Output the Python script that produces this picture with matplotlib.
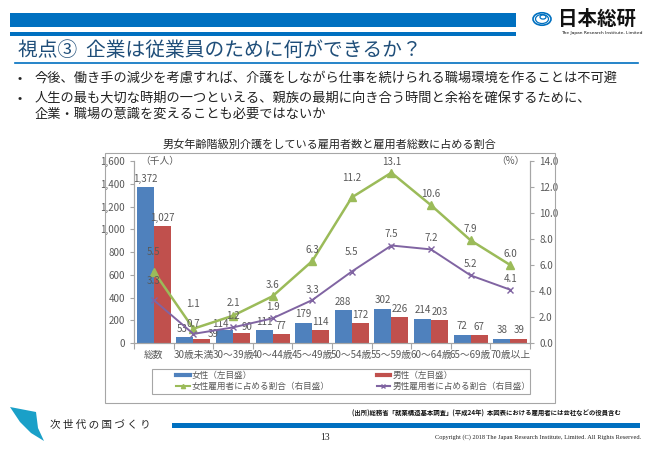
import matplotlib
matplotlib.use("Agg")
import matplotlib.pyplot as plt
from matplotlib.patches import Rectangle, Polygon, Circle
from matplotlib.lines import Line2D

plt.rcParams['font.family'] = ['Noto Sans CJK JP', 'DejaVu Sans']

categories = ["総数", "30歳未満", "30～39歳", "40～44歳", "45～49歳",
              "50～54歳", "55～59歳", "60～64歳", "65～69歳", "70歳以上"]
female = [1372, 53, 114, 111, 179, 288, 302, 214, 72, 38]
male = [1027, 39, 90, 77, 114, 172, 226, 203, 67, 39]
female_rate = [5.5, 1.1, 2.1, 3.6, 6.3, 11.2, 13.1, 10.6, 7.9, 6.0]
male_rate = [3.3, 0.7, 1.2, 1.9, 3.3, 5.5, 7.5, 7.2, 5.2, 4.1]

# label offsets in points (dx, dy) - layout only
f_off = [14, 18, 9, 8, 8, 14, 8, 8, 8, 8]
m_off = [14, 7, 8, 8, 7, 14, 8, 8, 8, 8]
fbar_off = [(0, 6), (-2, 6), (-3, 4), (0, 6), (0, 6), (0, 6), (0, 6), (0, 6), (0, 6), (0, 6)]
mbar_off = [(0, 6), (8, 3), (4, 4), (0, 6), (0, 6), (0, 6), (0, 6), (0, 6), (0, 6), (0, 6)]

BLUE = "#4F81BD"
RED = "#C0504D"
GREEN = "#9BBB59"
PURPLE = "#8064A2"
NAVY = "#0070C0"
GRAY = "#595959"

W, H = 650, 450
fig = plt.figure(figsize=(6.5, 4.5), dpi=100)


def px(x, y):
    return x / W, 1 - y / H


def ftext(x, y, s, **kw):
    fig.text(*px(x, y), s, **kw)


# header
fig.patches.append(Rectangle(px(10, 27), 506 / W, 14 / H, transform=fig.transFigure,
                             color=NAVY, lw=0))
fig.patches.append(Rectangle(px(10, 36), 506 / W, 4 / H, transform=fig.transFigure,
                             color=NAVY, lw=0))
fig.lines.append(Line2D([15 / W, 638 / W], [1 - 63 / H] * 2, transform=fig.transFigure,
                        color=NAVY, lw=1.2))

# logo
for r, lw in [(9, 1.2), (6.5, 0.9)]:
    fig.patches.append(Circle(px(542, 19), r / W, transform=fig.transFigure,
                              fill=False, ec=NAVY, lw=lw))
fig.patches.append(Circle(px(543, 17), 3 / W, transform=fig.transFigure,
                          fill=False, ec=NAVY, lw=0.9))
ftext(558, 19, "日本総研", fontsize=14, va="center", ha="left", color="#111111",
      fontweight="bold")
ftext(561, 33, "The Japan Research Institute, Limited", fontsize=3.2, va="center",
      ha="left", color="#111111", family=["DejaVu Sans"])

ftext(18, 50, "視点③  企業は従業員のために何ができるか？", fontsize=14.2, va="center",
      ha="left", color="#1F4E79")

bullets = [(78, "今後、働き手の減少を考慮すれば、介護をしながら仕事を続けられる職場環境を作ることは不可避"),
           (98, "人生の最も大切な時期の一つといえる、親族の最期に向き合う時間と余裕を確保するために、")]
for y, s in bullets:
    ftext(17, y, "•", fontsize=9, va="center", ha="left", color="#222222")
    ftext(35, y, s, fontsize=9.5, va="center", ha="left", color="#222222")
ftext(35, 114, "企業・職場の意識を変えることも必要ではないか", fontsize=9.5, va="center",
      ha="left", color="#222222")

# chart frame and title
fig.patches.append(Rectangle(px(105, 403), 450 / W, 250 / H, transform=fig.transFigure,
                             fill=False, ec="#A6A6A6", lw=0.8))
ftext(329, 144, "男女年齢階級別介護をしている雇用者数と雇用者総数に占める割合",
      fontsize=8, va="center", ha="center", color="#222222")

ax = fig.add_axes([134 / W, 1 - 343 / H, 396 / W, 182 / H])
x = list(range(len(categories)))
bw = 0.43
ax.bar([i - bw / 2 for i in x], female, bw, color=BLUE)
ax.bar([i + bw / 2 for i in x], male, bw, color=RED)
for i in x:
    ax.annotate(f"{female[i]:,}", (i - bw / 2, female[i]), xytext=fbar_off[i],
                textcoords="offset points", ha="center", va="center", fontsize=7, color=GRAY)
    ax.annotate(f"{male[i]:,}", (i + bw / 2, male[i]), xytext=mbar_off[i],
                textcoords="offset points", ha="center", va="center", fontsize=7, color=GRAY)
ax.set_xlim(-0.5, len(categories) - 0.5)
ax.set_ylim(0, 1600)
ax.set_yticks(range(0, 1601, 200))
ax.set_yticklabels([f"{v:,}" for v in range(0, 1601, 200)])
ax.set_xticks([i - 0.5 for i in range(len(categories) + 1)])
ax.set_xticklabels([])
ax.set_xticks(x, minor=True)
ax.set_xticklabels(categories, minor=True)
ax.tick_params(axis="x", which="major", length=4, color="#A6A6A6")
ax.tick_params(axis="x", which="minor", length=0, labelsize=7, labelcolor=GRAY, pad=5)
ax.tick_params(axis="y", length=3, color="#A6A6A6", labelsize=7, labelcolor=GRAY)
ax.spines["top"].set_visible(False)
for s in ["left", "bottom", "right"]:
    ax.spines[s].set_color("#A6A6A6")

ax2 = ax.twinx()
ax2.plot(x, female_rate, color=GREEN, lw=1.8, marker="^", ms=5.5)
ax2.plot(x, male_rate, color=PURPLE, lw=1.4, marker="x", ms=5, mew=1)
for i in x:
    ax2.annotate(f"{female_rate[i]:.1f}", (i, female_rate[i]), xytext=(0, f_off[i]),
                 textcoords="offset points", ha="center", va="center", fontsize=7, color=GRAY)
    ax2.annotate(f"{male_rate[i]:.1f}", (i, male_rate[i]), xytext=(0, m_off[i]),
                 textcoords="offset points", ha="center", va="center", fontsize=7, color=GRAY)
ax2.set_ylim(0, 14)
ax2.set_yticks(range(0, 15, 2))
ax2.set_yticklabels([f"{v:.1f}" for v in range(0, 15, 2)])
ax2.tick_params(axis="y", length=3, color="#A6A6A6", labelsize=7, labelcolor=GRAY)
ax2.spines["top"].set_visible(False)
for s in ["left", "bottom", "right"]:
    ax2.spines[s].set_color("#A6A6A6")

ftext(140, 161, "（千人）", fontsize=7, va="center", ha="left", color=GRAY)
ftext(525, 161, "（%）", fontsize=7, va="center", ha="right", color=GRAY)

# legend: frame drawn separately, entries placed inside it
fig.patches.append(Rectangle(px(152, 394), 378 / W, 25 / H, transform=fig.transFigure,
                             fill=False, ec="#A6A6A6", lw=0.8))
handles = [Line2D([], [], color=BLUE, lw=3),
           Line2D([], [], color=GREEN, lw=1.5, marker="^", ms=3),
           Line2D([], [], color=RED, lw=3),
           Line2D([], [], color=PURPLE, lw=1.5, marker="x", ms=3)]
labels = ["女性（左目盛）", "女性雇用者に占める割合（右目盛）",
          "男性（左目盛）", "男性雇用者に占める割合（右目盛）"]
leg = fig.legend(handles, labels, ncol=2, loc="upper left",
                 bbox_to_anchor=px(174, 369), borderaxespad=0,
                 fontsize=6.2, frameon=False,
                 handlelength=1.6, handletextpad=0.2, columnspacing=5.5,
                 labelspacing=0.3, borderpad=0.2)
for t in leg.get_texts():
    t.set_color(GRAY)

# footer
ftext(352, 413, "(出所)総務省「就業構造基本調査」(平成24年)  本図表における雇用者には会社などの役員含む",
      fontsize=4.6, va="center", ha="left", color="#111111", fontweight="bold")
fig.patches.append(Rectangle(px(172, 428), 468 / W, 5 / H, transform=fig.transFigure,
                             color=NAVY, lw=0))
fig.patches.append(Polygon([px(10, 407), px(36, 412), px(38, 428), px(44, 441),
                            px(31, 433), px(20, 422)], closed=True,
                           transform=fig.transFigure, color="#1AA0C8", lw=0))
ftext(50, 425, "次 世 代 の 国 づ く り", fontsize=7.6, va="center", ha="left", color="#222222")
ftext(325, 437, "13", fontsize=7, va="center", ha="center", color="#222222",
      family=["Liberation Serif"])
ftext(641, 437, "Copyright (C) 2018 The Japan Research Institute, Limited. All Rights Reserved.",
      fontsize=4.6, va="center", ha="right", color="#222222", family=["Liberation Serif"])

fig.savefig("out.png", dpi=100)
